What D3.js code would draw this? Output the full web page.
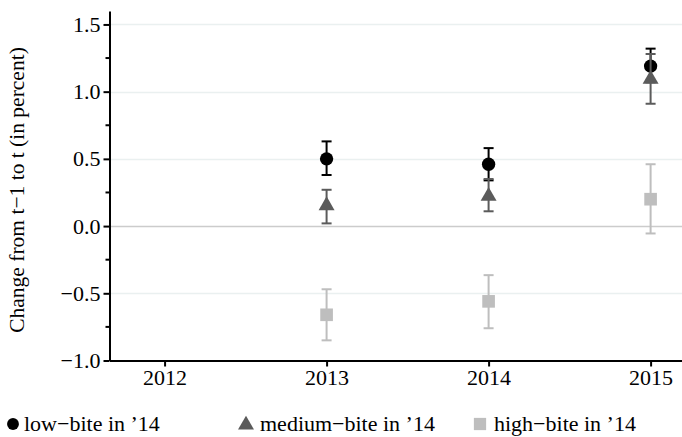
<!DOCTYPE html>
<html>
<head>
<meta charset="utf-8">
<script src="https://cdn.jsdelivr.net/npm/d3@7"></script>
<style>
  body { margin: 0; background: #fff; }
  svg { display: block; font-family: 'Liberation Serif', 'Times New Roman', serif; }
</style>
</head>
<body>
<div id="app"></div>
<script>
const width = 682
const height = 437

// data
const years = [2013, 2014, 2015]
const xTicks = [2012, 2013, 2014, 2015]
const yTicks = [-1.0, -0.5, 0.0, 0.5, 1.0, 1.5]
const yMinor = [-0.75, -0.25, 0.25, 0.75, 1.25]

const lowVal = [0.50, 0.46, 1.19]
const lowLo = [0.38, 0.34, 1.07]
const lowHi = [0.63, 0.58, 1.32]

const medVal = [0.16, 0.23, 1.10]
const medLo = [0.02, 0.11, 0.91]
const medHi = [0.27, 0.35, 1.28]

const highVal = [-0.66, -0.56, 0.20]
const highLo = [-0.85, -0.76, -0.055]
const highHi = [-0.47, -0.365, 0.46]

const seriesNames = ['low\u2212bite in \u201914', 'medium\u2212bite in \u201914', 'high\u2212bite in \u201914']

const series = [
  { name: seriesNames[0], val: lowVal, lo: lowLo, hi: lowHi, color: '#000000', shape: 'circle' },
  { name: seriesNames[1], val: medVal, lo: medLo, hi: medHi, color: '#5b5b5b', shape: 'triangle' },
  { name: seriesNames[2], val: highVal, lo: highLo, hi: highHi, color: '#bebebe', shape: 'square' }
]

const left = 109.5
const bottom = 360.5

const x = d3.scaleLinear().domain([2011.66, 2015.2]).range([left, 683])
const y = d3.scaleLinear().domain([-1, 1.6]).range([bottom, 11])

const svg = d3.select('#app')
  .append('svg')
  .attr('width', width)
  .attr('height', height)

// grid
svg.append('g')
  .selectAll('line')
  .data(yTicks.filter(d => d !== 0 && d !== -1))
  .enter()
  .append('line')
  .attr('x1', left)
  .attr('x2', width)
  .attr('y1', d => Math.round(y(d)) + 0.5)
  .attr('y2', d => Math.round(y(d)) + 0.5)
  .attr('stroke', '#eaf0f0')
  .attr('stroke-width', 1.5)

// zero line
svg.append('line')
  .attr('x1', left)
  .attr('x2', width)
  .attr('y1', Math.round(y(0)) + 0.5)
  .attr('y2', Math.round(y(0)) + 0.5)
  .attr('stroke', '#cccccc')
  .attr('stroke-width', 1.5)

const symbol = (shape, size) => {
  if (shape === 'circle') return d3.symbol(d3.symbolCircle, size)()
  if (shape === 'triangle') return d3.symbol(d3.symbolTriangle, size)()
  return d3.symbol(d3.symbolSquare, size)()
}
const sizes = { circle: 140, triangle: 110, square: 160 }

// error bars + points
series.forEach(s => {
  const g = svg.append('g')
  const rows = years.map((yr, i) => ({ yr, v: s.val[i], lo: s.lo[i], hi: s.hi[i] }))

  g.selectAll('.bar')
    .data(rows)
    .enter()
    .append('line')
    .attr('x1', d => x(d.yr))
    .attr('x2', d => x(d.yr))
    .attr('y1', d => y(d.lo))
    .attr('y2', d => y(d.hi))
    .attr('stroke', s.color)
    .attr('stroke-width', 2)

  g.selectAll('.cap')
    .data(rows.flatMap(d => [{ yr: d.yr, v: d.lo }, { yr: d.yr, v: d.hi }]))
    .enter()
    .append('line')
    .attr('x1', d => x(d.yr) - 5)
    .attr('x2', d => x(d.yr) + 5)
    .attr('y1', d => y(d.v))
    .attr('y2', d => y(d.v))
    .attr('stroke', s.color)
    .attr('stroke-width', 2)

  g.selectAll('.pt')
    .data(rows)
    .enter()
    .append('path')
    .attr('d', symbol(s.shape, sizes[s.shape]))
    .attr('transform', d => `translate(${x(d.yr)}, ${y(d.v) + (s.shape === 'triangle' ? 1 : 0)})`)
    .attr('fill', s.color)
})

// y axis
const axisY = d3.axisLeft(y)
  .tickValues(yTicks)
  .tickFormat(d3.format('.1f'))
  .tickSize(6)
  .tickSizeOuter(0)
const gy = svg.append('g')
  .attr('transform', `translate(${left}, 0)`)
  .call(axisY)
gy.attr('font-family', null).attr('font-size', null)
gy.select('.domain').attr('stroke', '#000').attr('stroke-width', 2)
gy.selectAll('.tick line').attr('stroke-width', 2)
gy.selectAll('.tick text')
  .style('font-size', '22px')
  .attr('fill', '#000')
  .attr('x', -9)

svg.append('g')
  .selectAll('line')
  .data(yMinor)
  .enter()
  .append('line')
  .attr('x1', left - 4)
  .attr('x2', left)
  .attr('y1', d => y(d))
  .attr('y2', d => y(d))
  .attr('stroke', '#000')
  .attr('stroke-width', 2)

// x axis
const axisX = d3.axisBottom(x)
  .tickValues(xTicks)
  .tickFormat(d3.format('d'))
  .tickSize(6)
  .tickSizeOuter(0)
const gx = svg.append('g')
  .attr('transform', `translate(0, ${bottom})`)
  .call(axisX)
gx.attr('font-family', null).attr('font-size', null)
gx.select('.domain').attr('stroke', '#000').attr('stroke-width', 2)
gx.selectAll('.tick line').attr('stroke-width', 2)
gx.selectAll('.tick text')
  .style('font-size', '22px')
  .attr('fill', '#000')
  .attr('y', 9)

// y title
svg.append('text')
  .attr('transform', `translate(24, 190) rotate(-90)`)
  .attr('text-anchor', 'middle')
  .style('font-size', '21.5px')
  .text('Change from t\u22121 to t (in percent)')

// legend
const legendX = [13, 246, 480]
const legend = svg.append('g')
series.forEach((s, i) => {
  legend.append('path')
    .attr('d', symbol(s.shape, s.shape === 'square' ? 150 : 110))
    .attr('transform', `translate(${legendX[i]}, ${s.shape === 'triangle' ? 425 : 424})`)
    .attr('fill', s.color)
  legend.append('text')
    .attr('x', legendX[i] + (i === 0 ? 11 : 14))
    .attr('y', 431)
    .style('font-size', '22px')
    .text(s.name)
})
</script>
</body>
</html>
